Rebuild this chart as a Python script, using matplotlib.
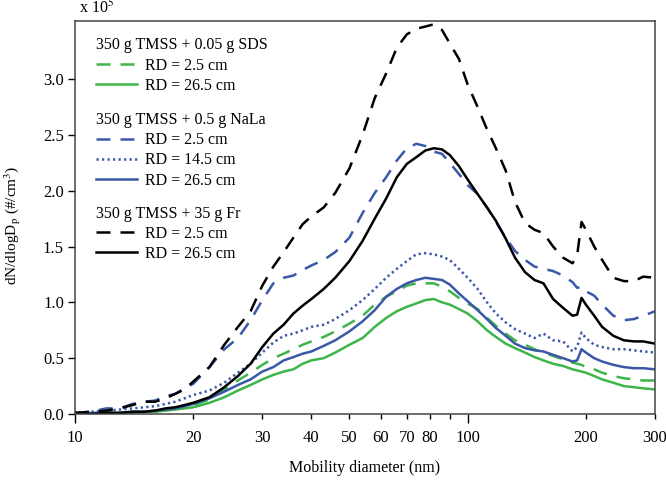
import matplotlib
matplotlib.use("Agg")
import matplotlib.pyplot as plt
from matplotlib.legend import Legend
from matplotlib.ticker import FixedLocator, FixedFormatter, FormatStrFormatter

plt.rcParams['font.family'] = ['Liberation Serif', 'DejaVu Serif']
plt.rcParams['mathtext.fontset'] = 'stix'

# mobility diameter (nm)
diam = [10, 11, 12, 13, 14, 15, 16, 17, 18, 19, 20, 22, 24, 26, 28, 30, 32, 34, 36, 38,
        40, 43, 46, 50, 54, 58, 62, 66, 70, 74, 78, 82, 86, 90, 95, 100, 106, 112, 118, 125,
        132, 140, 148, 156, 165, 175, 185, 190, 195, 200, 210, 220, 235, 250, 265, 280, 300]

# dN/dlogDp in units of 1e5 #/cm3
sds_25 = [0.00, 0.01, 0.01, 0.01, 0.02, 0.02, 0.03, 0.04, 0.05, 0.06, 0.08, 0.13, 0.22, 0.30, 0.37, 0.44, 0.50, 0.54, 0.58, 0.62,
          0.65, 0.69, 0.74, 0.81, 0.88, 0.98, 1.05, 1.10, 1.15, 1.17, 1.17, 1.17, 1.14, 1.10, 1.04, 0.99, 0.94, 0.86, 0.79, 0.72,
          0.66, 0.62, 0.58, 0.55, 0.52, 0.49, 0.46, 0.45, 0.44, 0.42, 0.40, 0.37, 0.34, 0.32, 0.31, 0.30, 0.30]
sds_265 = [0.00, 0.00, 0.01, 0.01, 0.01, 0.02, 0.02, 0.03, 0.04, 0.05, 0.06, 0.10, 0.15, 0.21, 0.26, 0.31, 0.35, 0.38, 0.40, 0.45,
           0.48, 0.50, 0.55, 0.62, 0.68, 0.78, 0.86, 0.92, 0.96, 0.99, 1.02, 1.03, 1.00, 0.98, 0.94, 0.90, 0.83, 0.75, 0.69, 0.63,
           0.59, 0.55, 0.51, 0.48, 0.45, 0.43, 0.40, 0.39, 0.38, 0.37, 0.34, 0.31, 0.28, 0.25, 0.24, 0.23, 0.22]
nala_25 = [0.01, 0.02, 0.05, 0.05, 0.09, 0.11, 0.12, 0.16, 0.18, 0.23, 0.27, 0.42, 0.58, 0.68, 0.84, 1.02, 1.17, 1.22, 1.24, 1.29,
           1.33, 1.38, 1.45, 1.58, 1.80, 1.98, 2.12, 2.27, 2.38, 2.42, 2.40, 2.35, 2.33, 2.25, 2.15, 2.05, 1.97, 1.85, 1.72, 1.58,
           1.46, 1.38, 1.32, 1.30, 1.28, 1.24, 1.18, 1.13, 1.14, 1.10, 1.06, 0.98, 0.88, 0.84, 0.85, 0.88, 0.92]
nala_145 = [0.01, 0.02, 0.03, 0.04, 0.05, 0.06, 0.07, 0.09, 0.11, 0.14, 0.17, 0.21, 0.28, 0.37, 0.45, 0.55, 0.64, 0.70, 0.72, 0.75,
            0.78, 0.80, 0.85, 0.93, 1.02, 1.12, 1.22, 1.30, 1.37, 1.43, 1.44, 1.43, 1.41, 1.38, 1.30, 1.22, 1.12, 1.00, 0.90, 0.82,
            0.76, 0.72, 0.68, 0.72, 0.66, 0.65, 0.56, 0.60, 0.73, 0.68, 0.62, 0.60, 0.58, 0.58, 0.57, 0.56, 0.55]
nala_265 = [0.00, 0.01, 0.01, 0.01, 0.02, 0.02, 0.03, 0.04, 0.05, 0.07, 0.09, 0.14, 0.20, 0.26, 0.31, 0.38, 0.42, 0.48, 0.51, 0.54,
            0.56, 0.61, 0.66, 0.74, 0.83, 0.93, 1.05, 1.12, 1.17, 1.20, 1.22, 1.21, 1.20, 1.16, 1.08, 1.01, 0.93, 0.85, 0.77, 0.70,
            0.63, 0.59, 0.57, 0.56, 0.53, 0.50, 0.47, 0.48, 0.58, 0.55, 0.50, 0.47, 0.44, 0.42, 0.41, 0.41, 0.40]
fr_25 = [0.01, 0.02, 0.03, 0.05, 0.08, 0.11, 0.11, 0.14, 0.18, 0.22, 0.29, 0.42, 0.62, 0.78, 0.92, 1.15, 1.32, 1.45, 1.58, 1.70,
         1.77, 1.85, 1.98, 2.20, 2.50, 2.83, 3.05, 3.28, 3.40, 3.45, 3.47, 3.49, 3.44, 3.32, 3.18, 2.95, 2.75, 2.55, 2.38, 2.18,
         1.90, 1.71, 1.65, 1.62, 1.50, 1.40, 1.35, 1.42, 1.72, 1.65, 1.50, 1.38, 1.22, 1.19, 1.19, 1.23, 1.22]
fr_265 = [0.00, 0.00, 0.01, 0.01, 0.02, 0.02, 0.03, 0.05, 0.06, 0.08, 0.10, 0.15, 0.24, 0.34, 0.45, 0.60, 0.72, 0.80, 0.90, 0.97,
          1.03, 1.12, 1.22, 1.37, 1.55, 1.75, 1.93, 2.12, 2.24, 2.30, 2.36, 2.38, 2.37, 2.32, 2.22, 2.10, 1.97, 1.85, 1.73, 1.57,
          1.40, 1.27, 1.20, 1.17, 1.03, 0.95, 0.88, 0.89, 1.04, 0.98, 0.88, 0.78, 0.70, 0.66, 0.65, 0.65, 0.63]

xticks_minor = [20, 30, 40, 50, 60, 70, 80, 90, 200, 300]
xlabels_minor = ['20', '30', '40', '50', '60', '70', '80', '', '200', '300']
yticks = [0.0, 0.5, 1.0, 1.5, 2.0, 2.5, 3.0]

green = '#3db54a'
blue = '#3a58a8'
lw = 1.8
dash = (0, (5.6, 4))
dots = (0, (0.9, 1.3))

fig = plt.figure(figsize=(6.66, 4.82), dpi=100)
ax = fig.add_axes([0.1126, 0.1411, 0.8709, 0.8154])

l1, = ax.plot(diam, sds_25, color=green, lw=lw, linestyle=dash)
l2, = ax.plot(diam, sds_265, color=green, lw=lw)
l3, = ax.plot(diam, nala_25, color=blue, lw=lw, linestyle=dash)
l4, = ax.plot(diam, nala_145, color=blue, lw=lw, linestyle=dots)
l5, = ax.plot(diam, nala_265, color=blue, lw=lw)
l6, = ax.plot(diam, fr_25, color='black', lw=lw, linestyle=dash)
l7, = ax.plot(diam, fr_265, color='black', lw=lw)

ax.set_xscale('log')
ax.set_xlim(10, 300)
ax.set_ylim(0, 3.52)
ax.xaxis.set_major_locator(FixedLocator([10, 100]))
ax.xaxis.set_major_formatter(FixedFormatter(['10', '100']))
ax.xaxis.set_minor_locator(FixedLocator(xticks_minor))
ax.xaxis.set_minor_formatter(FixedFormatter(xlabels_minor))
ax.set_yticks(yticks)
ax.yaxis.set_major_formatter(FormatStrFormatter('%.1f'))

ax.tick_params(axis='x', which='major', length=6.5, width=1, labelsize=12, pad=5)
ax.tick_params(axis='x', which='minor', length=3.8, width=1, labelsize=12, pad=7.7)
ax.tick_params(axis='y', length=5, width=1, labelsize=12, pad=3)
for s in ax.spines.values():
    s.set_color('#444444')
    s.set_linewidth(1.1)

ax.set_xlabel('Mobility diameter (nm)', fontsize=11.5, labelpad=10)
ax.set_ylabel(r'dN/dlogD$_\mathrm{p}$ (#/cm$^\mathrm{3}$)', fontsize=11)
ax.yaxis.set_label_coords(-0.09, 0.48)
ax.text(0.007, 1.033, r'x 10$^\mathrm{5}$', transform=ax.transAxes, fontsize=11.5, va='center', ha='left')

groups = [
    ([l1, l2], ['RD = 2.5 cm', 'RD = 26.5 cm'], '350 g TMSS + 0.05 g SDS', 0.958),
    ([l3, l4, l5], ['RD = 2.5 cm', 'RD = 14.5 cm', 'RD = 26.5 cm'], '350 g TMSS + 0.5 g NaLa', 0.768),
    ([l6, l7], ['RD = 2.5 cm', 'RD = 26.5 cm'], '350 g TMSS + 35 g Fr', 0.530),
]
for handles, labels, title, ytop in groups:
    leg = Legend(ax, handles, labels, title=title, loc='upper left', bbox_to_anchor=(0.036, ytop),
                 frameon=False, alignment='left', fontsize=11.5, title_fontsize=11.5,
                 handlelength=2.6, handletextpad=0.45, labelspacing=0.26, borderpad=0, borderaxespad=0)
    ax.add_artist(leg)

fig.savefig('out.png', dpi=100)
